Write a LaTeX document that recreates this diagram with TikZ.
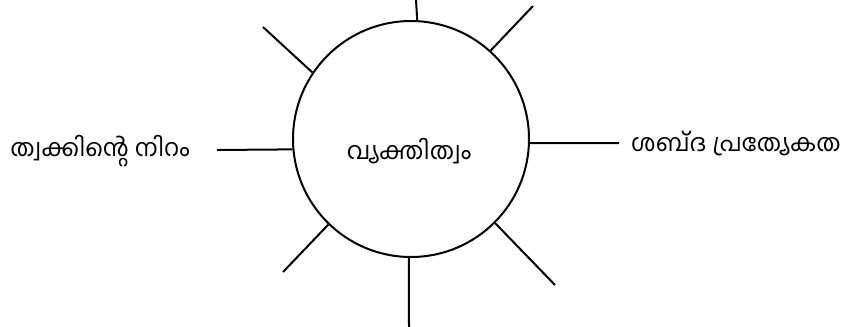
\documentclass[tikz,border=0pt]{standalone}
\usepackage{fontspec}
\newfontfamily\mlfont[Script=Malayalam]{Hind Kochi}
\usetikzlibrary{positioning}

\begin{document}
\begin{tikzpicture}[
  x=1pt, y=-1pt,
  hub/.style={draw, circle, line width=2pt, minimum size=236pt, inner sep=0pt},
  lbl/.style={font=\mlfont\fontsize{24}{28}\selectfont, inner sep=0pt},
  spoke/.style={line width=2pt},
]
\useasboundingbox (0,0) rectangle (847,327);
\node[hub] (c) at (411,139) {};
\node[lbl] (name) at (409,151) {വ്യക്തിത്വം};
\node[lbl] (skin) at (100,151) {ത്വക്കിന്റെ നിറം};
\node[lbl, anchor=west] (voice) at (631,144) {ശബ്^^^^200cദ പ്രത്യേകത};
% free ends of the spokes
\coordinate (t) at (416,0);
\coordinate (tr) at (533,6);
\coordinate (tl) at (263,27);
\coordinate (bl) at (283,272);
\coordinate (br) at (555,285);
\coordinate (b) at (409,327);
\coordinate (l) at (217,150);
\coordinate (r) at (619,143);
\draw[spoke] (c.87.6) -- (t);
\draw[spoke] (c.48.4) -- (tr);
\draw[spoke] (c.146.6) -- (tl);
\draw[spoke] (c.226) -- (bl);
\draw[spoke] (c.-45.7) -- (br);
\draw[spoke] (c.-91) -- (b);
\draw[spoke] (c.185.3) -- (l);
\draw[spoke] (c.-2) -- (r);
\end{tikzpicture}
\end{document}
